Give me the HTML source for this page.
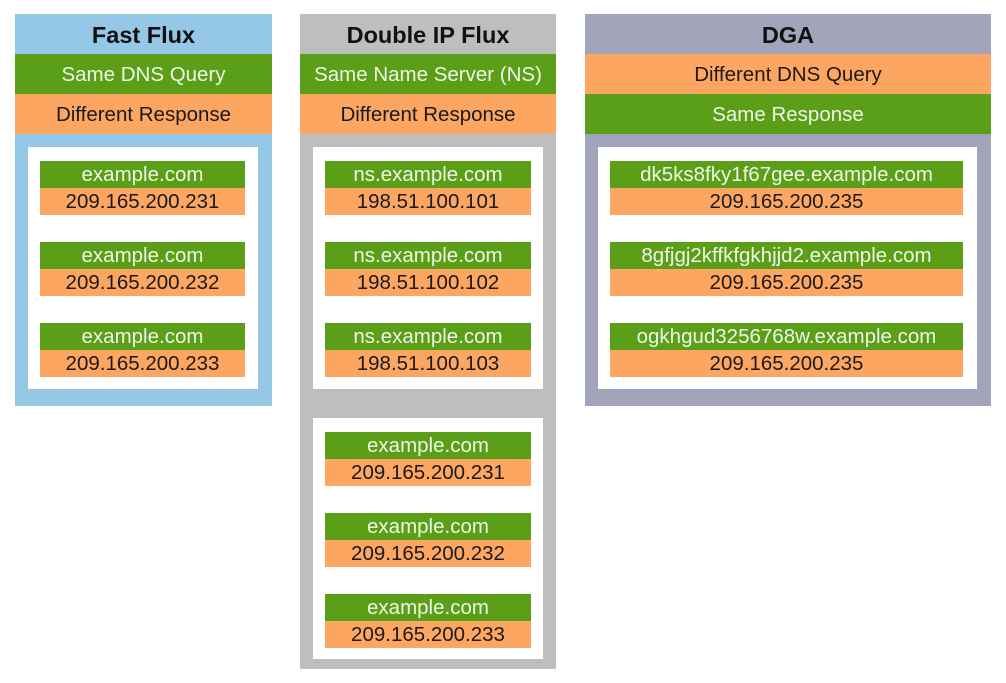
<!DOCTYPE html>
<html><head><meta charset="utf-8"><style>
body{margin:0;width:1006px;height:683px;background:#fff;position:relative;overflow:hidden;font-family:"Liberation Sans",sans-serif}
div{position:absolute;box-sizing:border-box}
.t{text-align:center;white-space:nowrap}
.h{font-weight:bold;font-size:23.5px;color:#111;line-height:42px}
.g{background:#5b9f19;color:#eef6e6;font-size:20.5px}
.o{background:#fda662;color:#1a1a1a;font-size:20.5px}
.w{background:#fff}
</style></head><body>
<!-- Fast Flux -->
<div style="left:15px;top:14px;width:257px;height:392px;background:#95c7e7"></div>
<div class="t h" style="left:15px;top:14px;width:257px;height:40px">Fast Flux</div>
<div class="t g" style="left:15px;top:54px;width:257px;height:40px;line-height:42px">Same DNS Query</div>
<div class="t o" style="left:15px;top:94px;width:257px;height:40px;line-height:42px">Different Response</div>
<div class="w" style="left:28px;top:147px;width:230px;height:242px"></div>
<div class="t g" style="left:40px;top:161px;width:205px;height:27px;line-height:28px">example.com</div>
<div class="t o" style="left:40px;top:188px;width:205px;height:27px;line-height:28px">209.165.200.231</div>
<div class="t g" style="left:40px;top:242px;width:205px;height:27px;line-height:28px">example.com</div>
<div class="t o" style="left:40px;top:269px;width:205px;height:27px;line-height:28px">209.165.200.232</div>
<div class="t g" style="left:40px;top:323px;width:205px;height:27px;line-height:28px">example.com</div>
<div class="t o" style="left:40px;top:350px;width:205px;height:27px;line-height:28px">209.165.200.233</div>

<!-- Double IP Flux -->
<div style="left:300px;top:14px;width:256px;height:655px;background:#bdbec0"></div>
<div class="t h" style="left:300px;top:14px;width:256px;height:40px">Double IP Flux</div>
<div class="t g" style="left:300px;top:54px;width:256px;height:40px;line-height:42px">Same Name Server (NS)</div>
<div class="t o" style="left:300px;top:94px;width:256px;height:40px;line-height:42px">Different Response</div>
<div class="w" style="left:313px;top:147px;width:230px;height:242px"></div>
<div class="t g" style="left:325px;top:161px;width:206px;height:27px;line-height:28px">ns.example.com</div>
<div class="t o" style="left:325px;top:188px;width:206px;height:27px;line-height:28px">198.51.100.101</div>
<div class="t g" style="left:325px;top:242px;width:206px;height:27px;line-height:28px">ns.example.com</div>
<div class="t o" style="left:325px;top:269px;width:206px;height:27px;line-height:28px">198.51.100.102</div>
<div class="t g" style="left:325px;top:323px;width:206px;height:27px;line-height:28px">ns.example.com</div>
<div class="t o" style="left:325px;top:350px;width:206px;height:27px;line-height:28px">198.51.100.103</div>
<div class="w" style="left:313px;top:418px;width:230px;height:241px"></div>
<div class="t g" style="left:325px;top:432px;width:206px;height:27px;line-height:28px">example.com</div>
<div class="t o" style="left:325px;top:459px;width:206px;height:27px;line-height:28px">209.165.200.231</div>
<div class="t g" style="left:325px;top:513px;width:206px;height:27px;line-height:28px">example.com</div>
<div class="t o" style="left:325px;top:540px;width:206px;height:27px;line-height:28px">209.165.200.232</div>
<div class="t g" style="left:325px;top:594px;width:206px;height:27px;line-height:28px">example.com</div>
<div class="t o" style="left:325px;top:621px;width:206px;height:27px;line-height:28px">209.165.200.233</div>

<!-- DGA -->
<div style="left:585px;top:14px;width:406px;height:392px;background:#a2a5ba"></div>
<div class="t h" style="left:585px;top:14px;width:406px;height:40px">DGA</div>
<div class="t o" style="left:585px;top:54px;width:406px;height:40px;line-height:42px">Different DNS Query</div>
<div class="t g" style="left:585px;top:94px;width:406px;height:40px;line-height:42px">Same Response</div>
<div class="w" style="left:598px;top:147px;width:379px;height:242px"></div>
<div class="t g" style="left:610px;top:161px;width:353px;height:27px;line-height:28px">dk5ks8fky1f67gee.example.com</div>
<div class="t o" style="left:610px;top:188px;width:353px;height:27px;line-height:28px">209.165.200.235</div>
<div class="t g" style="left:610px;top:242px;width:353px;height:27px;line-height:28px">8gfjgj2kffkfgkhjjd2.example.com</div>
<div class="t o" style="left:610px;top:269px;width:353px;height:27px;line-height:28px">209.165.200.235</div>
<div class="t g" style="left:610px;top:323px;width:353px;height:27px;line-height:28px">ogkhgud3256768w.example.com</div>
<div class="t o" style="left:610px;top:350px;width:353px;height:27px;line-height:28px">209.165.200.235</div>
</body></html>
